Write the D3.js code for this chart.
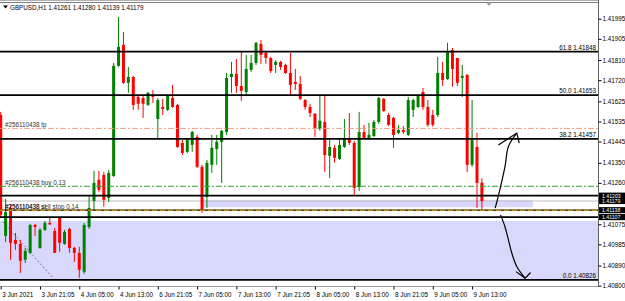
<!DOCTYPE html>
<html>
<head>
<meta charset="utf-8">
<script src="https://cdn.jsdelivr.net/npm/d3@7"></script>
<style>
html, body { margin: 0; padding: 0; background: #fff; }
svg { display: block; font-family: "Liberation Sans", Arial, sans-serif; }
</style>
</head>
<body>
<div id="chart"></div>
<script>
// GBPUSD H1, 3 Jun 13:00 .. 9 Jun 15:00 (one value per bar)
const opens  = [1.41564,1.41023,1.41148,1.41005,1.40987,1.40916,1.40947,1.41072,1.40969,1.41050,
                1.41081,1.41045,1.41103,1.40987,1.41054,1.40969,1.40947,1.40862,1.41063,1.41179,
                1.41274,1.41296,1.41193,1.41291,1.41784,1.41878,1.41708,1.41734,1.41645,1.41640,
                1.41609,1.41654,1.41546,1.41600,1.41587,1.41640,1.41609,1.41439,1.41399,1.41430,
                1.41466,1.41332,1.41197,1.41341,1.41412,1.41444,1.41488,1.41734,1.41748,1.41694,
                1.41667,1.41766,1.41797,1.41882,1.41842,1.41819,1.41788,1.41802,1.41788,1.41752,
                1.41712,1.41703,1.41631,1.41600,1.41569,1.41502,1.41533,1.41381,1.41417,1.41367,
                1.41421,1.41461,1.41439,1.41242,1.41488,1.41457,1.41470,1.41533,1.41636,1.41564,
                1.41551,1.41484,1.41497,1.41475,1.41587,1.41600,1.41667,1.41600,1.41564,1.41564,
                1.41752,1.41725,1.41855,1.41819,1.41730,1.41743,1.41341,1.41421,1.41261];
const highs  = [1.41578,1.41188,1.41162,1.41036,1.41005,1.40969,1.41077,1.41077,1.41059,1.41090,
                1.41103,1.41059,1.41103,1.41050,1.41059,1.40974,1.40974,1.41081,1.41202,1.41314,
                1.41314,1.41309,1.41318,1.41797,1.42003,1.41936,1.41779,1.41739,1.41654,1.41654,
                1.41667,1.41676,1.41640,1.41636,1.41658,1.41699,1.41614,1.41452,1.41461,1.41493,
                1.41475,1.41341,1.41363,1.41475,1.41475,1.41497,1.41752,1.41802,1.41815,1.41846,
                1.41833,1.41833,1.41891,1.41900,1.41846,1.41824,1.41810,1.41806,1.41793,1.41842,
                1.41770,1.41739,1.41636,1.41614,1.41573,1.41649,1.41649,1.41457,1.41430,1.41461,
                1.41546,1.41573,1.41448,1.41578,1.41520,1.41529,1.41542,1.41645,1.41640,1.41573,
                1.41555,1.41520,1.41515,1.41645,1.41636,1.41654,1.41685,1.41631,1.41587,1.41824,
                1.41802,1.41887,1.41864,1.41819,1.41788,1.41748,1.41631,1.41484,1.41280];
const lows   = [1.41103,1.40996,1.40916,1.40960,1.40857,1.40902,1.40942,1.41023,1.40965,1.41045,
                1.41074,1.40947,1.40952,1.40983,1.40947,1.40907,1.40835,1.40853,1.41054,1.41139,
                1.41220,1.41153,1.41175,1.41287,1.41780,1.41703,1.41663,1.41587,1.41587,1.41551,
                1.41605,1.41618,1.41461,1.41564,1.41582,1.41596,1.41417,1.41385,1.41394,1.41399,
                1.41327,1.41126,1.41148,1.41305,1.41341,1.41260,1.41475,1.41663,1.41663,1.41627,
                1.41654,1.41757,1.41788,1.41793,1.41793,1.41752,1.41752,1.41766,1.41748,1.41654,
                1.41676,1.41631,1.41587,1.41555,1.41466,1.41493,1.41309,1.41282,1.41350,1.41363,
                1.41417,1.41430,1.41206,1.41224,1.41457,1.41452,1.41466,1.41524,1.41578,1.41515,
                1.41417,1.41479,1.41479,1.41470,1.41555,1.41596,1.41587,1.41511,1.41511,1.41555,
                1.41694,1.41721,1.41690,1.41694,1.41645,1.41309,1.41332,1.41148,1.41139];
const closes = [1.41117,1.41130,1.40992,1.40987,1.40911,1.40956,1.41072,1.41063,1.41050,1.41081,
                1.41074,1.40947,1.40992,1.41041,1.40969,1.40947,1.40871,1.41072,1.41148,1.41260,
                1.41229,1.41184,1.41305,1.41784,1.41869,1.41708,1.41734,1.41609,1.41614,1.41614,
                1.41663,1.41645,1.41631,1.41591,1.41649,1.41600,1.41421,1.41394,1.41452,1.41488,
                1.41332,1.41139,1.41350,1.41417,1.41444,1.41493,1.41730,1.41748,1.41694,1.41672,
                1.41770,1.41797,1.41887,1.41833,1.41819,1.41761,1.41802,1.41779,1.41752,1.41699,
                1.41703,1.41636,1.41600,1.41573,1.41506,1.41538,1.41385,1.41421,1.41372,1.41430,
                1.41461,1.41439,1.41238,1.41488,1.41461,1.41475,1.41533,1.41640,1.41582,1.41520,
                1.41475,1.41497,1.41488,1.41631,1.41631,1.41649,1.41600,1.41520,1.41520,1.41752,
                1.41721,1.41846,1.41770,1.41708,1.41739,1.41341,1.41452,1.41260,1.41179];

// time axis: one label every 8 bars
const timeLabels = ["3 Jun 2021","3 Jun 21:05","4 Jun 05:00","4 Jun 13:00","6 Jun 21:05",
                    "7 Jun 05:00","7 Jun 13:00","7 Jun 21:05","8 Jun 05:00","8 Jun 13:00",
                    "8 Jun 21:05","9 Jun 05:00","9 Jun 13:00"];
const labelStep = 8;

// price axis
const priceTicks = [1.41995,1.41905,1.41810,1.41720,1.41625,1.41535,1.41445,1.41350,1.41260,
                    1.41075,1.40985,1.40890,1.40800];

// fibo levels
const fiboNames  = ["61.8","50.0","38.2","0.0"];
const fiboPrices = [1.41848,1.41653,1.41457,1.40826];

// other objects
const blackLines = [1.41203, 1.41107];
const bidPrice = 1.41179;
const tpPrice = 1.41504, buyPrice = 1.41245, slPrice = 1.41138;
const axisBoxes = [1.41203, 1.41179, 1.41138, 1.41107];
const zones = [
  { i0: -1, i1: 125, p0: 1.40826, p1: 1.41090 },
  { i0: 41.2, i1: 108.4, p0: 1.41151, p1: 1.41184 }
];
const trendLine = [[0.47, 1.41086], [10.65, 1.40835]];
const arrowUp   = [[100.7,1.41147],[101.15,1.41184],[102.7,1.41333],[103.4,1.41423],[105.1,1.41483]];
const arrowUpHead = [[101.35,1.41430],[105.1,1.41483],[105.6,1.41438]];
const arrowDown = [[101.8,1.41117],[102.7,1.41064],[103.4,1.41005],[104.1,1.40945],[105.1,1.40886],[106.8,1.40834]];
const arrowDownHead = [[104.95,1.40863],[106.8,1.40834],[107.9,1.40859]];

const W = 625, H = 301;
const plotRight = 598, plotTop = 2, plotBottom = 286;
const bull = "#008000", bear = "#ff0000";
const fs = 6.3;

const svg = d3.select("#chart").append("svg")
    .attr("width", W).attr("height", H);
svg.append("rect").attr("width", W).attr("height", H).attr("fill", "#fff");

svg.append("defs").append("clipPath").attr("id", "clip")
  .append("rect").attr("x", 0).attr("y", plotTop).attr("width", plotRight).attr("height", plotBottom - plotTop);

const x = d3.scaleLinear().domain([0, 98]).range([0.7, 481.9]);
const y = d3.scaleLinear().domain([1.40800, 1.41995]).range([285.7, 18.7]);

const plot = svg.append("g").attr("clip-path", "url(#clip)");

// zones (background)
plot.selectAll("rect.zone").data(zones).join("rect")
    .attr("class", "zone")
    .attr("x", d => x(d.i0)).attr("width", d => x(d.i1) - x(d.i0))
    .attr("y", d => y(d.p1)).attr("height", d => y(d.p0) - y(d.p1))
    .attr("fill", "#d8d8fc");

// bid line
plot.append("line")
    .attr("x1", 0).attr("x2", plotRight)
    .attr("y1", y(bidPrice)).attr("y2", y(bidPrice))
    .attr("stroke", "#c0c0c0").attr("stroke-width", 1);

// trend line
plot.append("line")
    .attr("x1", x(trendLine[0][0])).attr("y1", y(trendLine[0][1]))
    .attr("x2", x(trendLine[1][0])).attr("y2", y(trendLine[1][1]))
    .attr("stroke", "#777").attr("stroke-dasharray", "2,2");

// candles
const bars = opens.map((o, i) => ({ i, o, h: highs[i], l: lows[i], c: closes[i] }));
const candle = plot.selectAll("g.bar").data(bars).join("g").attr("class", "bar");
candle.append("line")
    .attr("x1", d => x(d.i)).attr("x2", d => x(d.i))
    .attr("y1", d => y(d.h)).attr("y2", d => y(d.l))
    .attr("stroke", d => d.c >= d.o ? bull : bear).attr("stroke-width", 1);
candle.append("rect")
    .attr("x", d => x(d.i) - 1.5).attr("width", 3)
    .attr("y", d => y(Math.max(d.o, d.c)))
    .attr("height", d => Math.max(1, Math.abs(y(d.o) - y(d.c))))
    .attr("fill", d => d.c >= d.o ? bull : bear);

// order lines
function hline(p, color, dash, w) {
  return plot.append("line")
      .attr("x1", 0).attr("x2", plotRight)
      .attr("y1", y(p)).attr("y2", y(p))
      .attr("stroke", color).attr("stroke-width", w || 1)
      .attr("stroke-dasharray", dash || null);
}
hline(tpPrice, "#f89c80", "6,2,2,2");
hline(buyPrice, "#2aa52a", "6,2,2,2");
hline(slPrice, "#000", null, 1.2);
hline(slPrice, "#c08a1a", "5,3", 1.6);

// black horizontal lines + fibo
blackLines.forEach(p => hline(p, "#000", null, 1.8));
fiboPrices.forEach(p => hline(p, "#000", null, 1.8));

plot.selectAll("text.fibo").data(fiboPrices).join("text")
    .attr("class", "fibo")
    .attr("x", 596).attr("y", d => y(d) - 2)
    .attr("text-anchor", "end").attr("font-size", fs).attr("fill", "#000")
    .text((d, i) => fiboNames[i] + " " + d3.format(".5f")(d));

// order labels (the sl and sell stop labels sit on the same line)
const orderText = [
  [tpPrice, "#256110438 tp"],
  [buyPrice, "#256110438 buy 0.13"],
  [slPrice, "#256110438 sell stop 0.14"],
  [slPrice, "#256110438 sl"]
];
plot.selectAll("text.order").data(orderText).join("text")
    .attr("class", "order")
    .attr("x", 5).attr("y", d => y(d[0]) - 1.5)
    .attr("font-size", fs).attr("fill", "#333")
    .text(d => d[1]);

// hand drawn arrows
const pen = d3.line().x(d => x(d[0])).y(d => y(d[1])).curve(d3.curveCatmullRom);
const penStraight = d3.line().x(d => x(d[0])).y(d => y(d[1]));
[arrowUp, arrowDown].forEach(a => plot.append("path").attr("d", pen(a))
    .attr("fill", "none").attr("stroke", "#000").attr("stroke-width", 1.2));
[arrowUpHead, arrowDownHead].forEach(a => plot.append("path").attr("d", penStraight(a))
    .attr("fill", "none").attr("stroke", "#000").attr("stroke-width", 1.2));

// borders
svg.append("line").attr("x1", 0).attr("x2", plotRight + 0.5).attr("y1", 0.5).attr("y2", 0.5).attr("stroke", "#b0b0b0");
svg.append("line").attr("x1", 0).attr("x2", plotRight + 0.5).attr("y1", plotTop + 0.5).attr("y2", plotTop + 0.5).attr("stroke", "#808080");
svg.append("line").attr("x1", 0).attr("x2", plotRight + 0.5).attr("y1", plotBottom + 0.5).attr("y2", plotBottom + 0.5).attr("stroke", "#a0a0a0");
svg.append("line").attr("x1", plotRight + 0.5).attr("x2", plotRight + 0.5).attr("y1", 0).attr("y2", plotBottom + 0.5).attr("stroke", "#606060");

// chart shift marker
svg.append("path").attr("d", "M486,2.5 L492,2.5 L489,6 Z").attr("fill", "#a0a0a0");

// price axis
const yAxis = svg.append("g")
    .attr("transform", `translate(${plotRight + 0.5},0)`)
    .call(d3.axisRight(y).tickValues(priceTicks).tickFormat(d3.format(".5f")).tickSize(3).tickPadding(1));
yAxis.select(".domain").remove();
yAxis.selectAll("line").attr("stroke", "#000");
yAxis.selectAll("text").attr("font-size", fs).attr("font-family", "Liberation Sans, Arial, sans-serif").attr("fill", "#000");

// price boxes: adjacent boxes share one black block, text kept small enough to stay apart
const boxH = 5.3;
const boxes = svg.append("g");
boxes.selectAll("rect").data(axisBoxes).join("rect")
    .attr("x", plotRight + 1).attr("width", W - plotRight - 1)
    .attr("y", d => y(d) - boxH / 2 - 0.4).attr("height", boxH + 0.8).attr("fill", "#000");
boxes.selectAll("text").data(axisBoxes).join("text")
    .attr("x", plotRight + 4).attr("y", d => y(d) + 1.9)
    .attr("font-size", 5.2).attr("fill", "#fff")
    .text(d => d3.format(".5f")(d));

// time axis
const tickIdx = timeLabels.map((t, i) => i * labelStep);
const xAxis = svg.append("g")
    .attr("transform", `translate(0,${plotBottom + 0.5})`)
    .call(d3.axisBottom(x).tickValues(tickIdx).tickFormat((d, i) => timeLabels[i]).tickSize(3).tickPadding(3));
xAxis.select(".domain").remove();
xAxis.selectAll("line").attr("stroke", "#000");
xAxis.selectAll("text").attr("text-anchor", "start").attr("dx", 1)
    .attr("font-size", fs).attr("font-family", "Liberation Sans, Arial, sans-serif").attr("fill", "#000");

// title
const last = bars[bars.length - 1];
svg.append("path").attr("d", "M3,5.5 L8,5.5 L5.5,8.5 Z").attr("fill", "#000");
svg.append("text").attr("x", 10).attr("y", 9.5).attr("font-size", fs).attr("fill", "#000")
    .text("GBPUSD,H1  " + [last.o, last.h, last.l, last.c].map(d3.format(".5f")).join(" "));
</script>
</body>
</html>
